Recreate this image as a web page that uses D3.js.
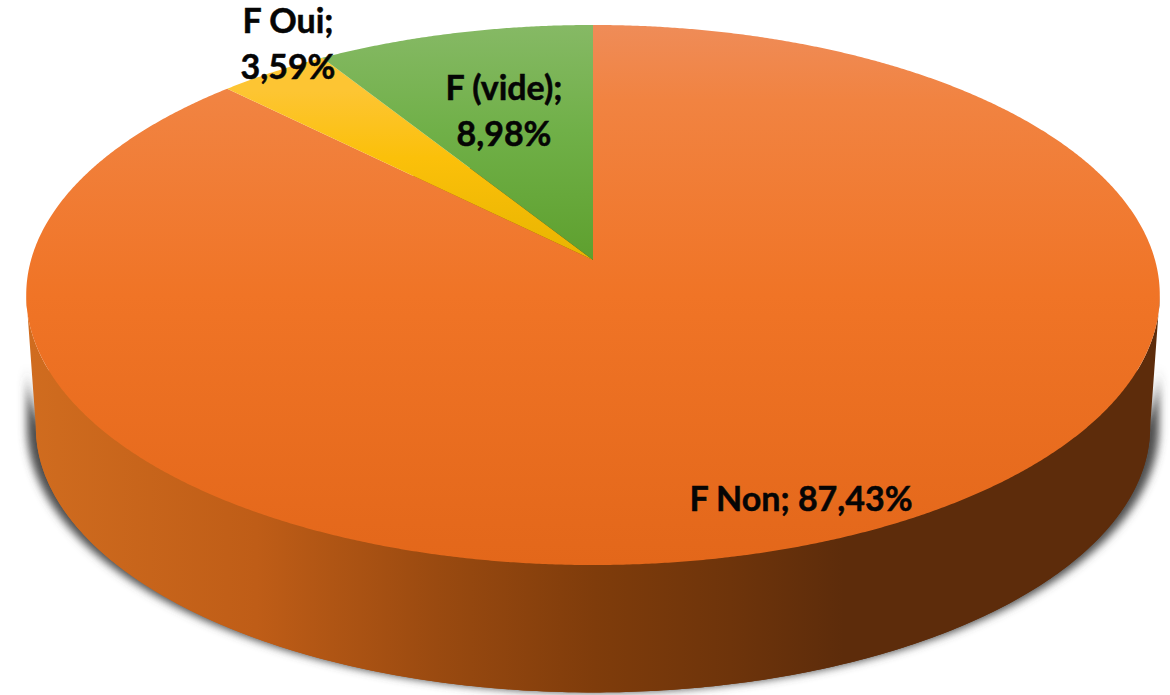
<!DOCTYPE html>
<html>
<head>
<meta charset="utf-8">
<script src="https://cdn.jsdelivr.net/npm/d3@7"></script>
<style>
  html, body { margin: 0; padding: 0; background: #fff; }
  svg { display: block; }
  text { font-family: Lato, "Open Sans", sans-serif; font-weight: 700; font-size: 34px; fill: #050505; stroke: #050505; stroke-width: 0.5px; text-anchor: middle; }
</style>
</head>
<body>
<svg id="canvas" width="1170" height="695"></svg>
<script>
let categories = ['F Non', 'F Oui', 'F (vide)']
let shares = [87.43, 3.59, 8.98]

let width = 1170, height = 695
let cx = 593, apexY = 260, radius = 562
// perspective of the tilted disc (fitted on the rim: top 25, bottom 565)
let persp = -0.1296, yScale = 231.8
let depthShift = 132, depthScale = 0.983, rimMidY = 295

let svg = d3.select('#canvas')
let defs = svg.append('defs')

let gradient = (id, attrs, stops) => {
    let g = defs.append('linearGradient').attr('id', id).attr('gradientUnits', 'userSpaceOnUse')
    Object.keys(attrs).forEach((k) => g.attr(k, attrs[k]))
    stops.forEach((s) => g.append('stop').attr('offset', s[0]).attr('stop-color', s[1]))
}

gradient('top0', {x1: 0, x2: 0, y1: 25, y2: 565}, [[0, '#ef8c58'], [0.14, '#f18341'], [0.5, '#f07426'], [1, '#e3671a']])
gradient('top1', {x1: 0, x2: 0, y1: 90, y2: 260}, [[0, '#fdc533'], [0.4, '#fbc00a'], [1, '#e8b400']])
gradient('top2', {x1: 0, x2: 0, y1: 25, y2: 260}, [[0, '#86b965'], [0.45, '#70b048'], [1, '#5ea02e']])
gradient('side', {x1: 30, x2: 1160, y1: 0, y2: 0}, [[0, '#d06c1f'], [0.2, '#bf5d17'], [0.36, '#9a4a10'], [0.5, '#7f3c0b'], [0.62, '#6e340b'], [0.72, '#5d2c0b'], [1, '#5d2c0b']])

let blur = defs.append('filter').attr('id', 'blur')
    .attr('x', '-5%').attr('y', '-5%').attr('width', '110%').attr('height', '110%')
blur.append('feGaussianBlur').attr('stdDeviation', 4)

// angle on the disc -> screen point
let project = (a) => {
    let t = -Math.cos(a)
    let w = 1 + persp * t
    return [cx + radius * Math.sin(a) / w, (yScale * t + apexY) / w]
}
let lower = (p) => [cx + (p[0] - cx) * depthScale, rimMidY + depthShift + (p[1] - rimMidY) * depthScale]

let line = d3.line()
let pie = d3.pie().sort(null).value((d) => d)
let arcs = pie(shares)

// side wall runs between the two tangent points of the rim
let tangent = Math.acos(persp)
let wallAngles = d3.range(tangent, 2 * Math.PI - tangent, 0.01).concat([2 * Math.PI - tangent])
let topRim = wallAngles.map(project)
let lowRim = topRim.map(lower)

// shadow is the wall, a bit wider, starting lower than the top rim
let shadowX = 1.016, shadowLift = 62
let shadowLow = lowRim.map((p) => [cx + (p[0] - cx) * shadowX, p[1]])
let shadowHigh = shadowLow.map((p) => [p[0], p[1] - shadowLift]).reverse()

svg.append('path')
    .attr('d', line(shadowLow.concat(shadowHigh)) + 'Z')
    .attr('fill', '#4d4d4d')
    .attr('filter', 'url(#blur)')

svg.append('path')
    .attr('d', line(d3.range(0, 2 * Math.PI, 0.01).map(project).map(lower)) + 'Z')
    .attr('fill', 'url(#side)')

svg.append('path')
    .attr('d', line(topRim.concat(lowRim.slice().reverse())) + 'Z')
    .attr('fill', 'url(#side)')

svg.selectAll('path.slice')
    .data(arcs)
    .enter()
    .append('path')
    .attr('class', 'slice')
    .attr('d', (d) => {
        let steps = d3.range(d.startAngle, d.endAngle, 0.005).concat([d.endAngle])
        return line([[cx, apexY]].concat(steps.map(project))) + 'Z'
    })
    .attr('fill', (d, i) => 'url(#top' + i + ')')

// label lines and where they sit
let labelLines = categories.map((c, i) => {
    let value = d3.format('.2f')(shares[i]).replace('.', ',') + '%'
    return i === 0 ? [c + '; ' + value] : [c + ';', value]
})
let labelX = [801, 288, 504]
let labelY = [511, 33, 100]

labelLines.forEach((lines, i) => {
    lines.forEach((l, j) => {
        svg.append('text')
            .attr('x', labelX[i])
            .attr('y', labelY[i] + j * 46)
            .text(l)
    })
})
</script>
</body>
</html>
